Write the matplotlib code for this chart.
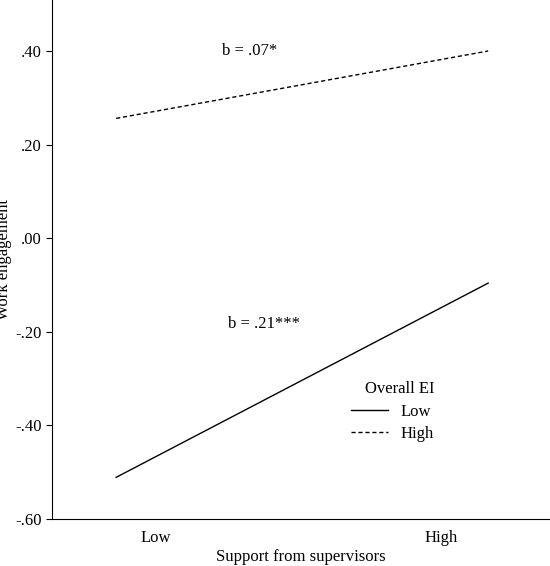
import matplotlib.pyplot as plt

plt.rcParams['font.family'] = ['Liberation Serif', 'DejaVu Serif']

x_pos = [-0.14, 1.165]
low_ei = [-0.511, -0.096]
high_ei = [0.256, 0.40]
yticks = [0.40, 0.20, 0.00, -0.20, -0.40, -0.60]
ytick_labels = [".40", ".20", ".00", "-.20", "-.40", "-.60"]

fig = plt.figure(figsize=(5.5, 5.66), dpi=100)
ax = fig.add_axes([52 / 550, 47 / 566, 498 / 550, 519 / 566])

ax.plot(x_pos, low_ei, color="black", lw=1.0, label="Low")
ax.plot(x_pos, high_ei, color="black", lw=1.0, ls=(0, (3, 2)), label="High")

ax.set_xlim(-0.365, 1.382)
ax.set_ylim(-0.60, 0.509)
ax.set_yticks(yticks)
ax.set_yticklabels(ytick_labels)
ax.set_xticks([0, 1])
ax.set_xticklabels(["Low", "High"])
ax.tick_params(labelsize=12, length=4, color="black")
ax.tick_params(axis="x", length=0, pad=8)
for s in ["top", "right"]:
    ax.spines[s].set_visible(False)

ax.set_xlabel("Support from supervisors", fontsize=12, labelpad=2)
ax.set_ylabel("Work engagement", fontsize=12, labelpad=2)

ax.text(0.33, 0.40, "b = .07*", fontsize=12, ha="center", va="center")
ax.text(0.38, -0.183, "b = .21***", fontsize=12, ha="center", va="center")

leg = ax.legend(title="Overall EI", loc="upper left", bbox_to_anchor=(0.57, 0.295),
                frameon=False, fontsize=12, title_fontsize=12, handlelength=2.2,
                labelspacing=0.4, alignment="right")

fig.savefig("out.png")
